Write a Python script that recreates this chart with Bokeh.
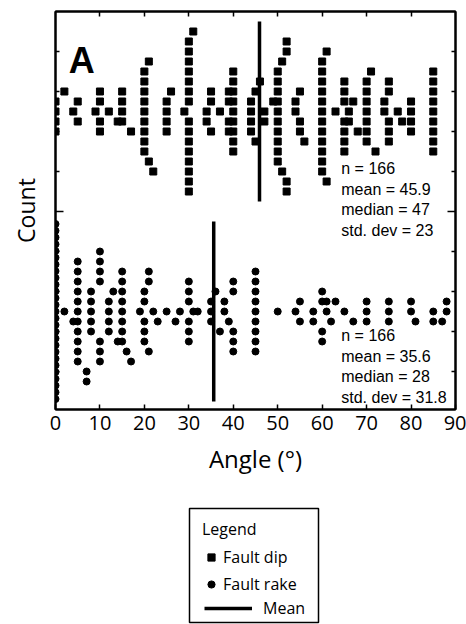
import numpy as np
from bokeh.plotting import figure
from bokeh.layouts import column
from bokeh.models import (Range1d, LinearAxis, FixedTicker, Label, Legend,
                          LegendItem, ColumnDataSource, CustomJSTickFormatter)
from bokeh.embed import file_html
from bokeh.resources import INLINE

# ---------------- data (angles in degrees, in stacking order) ----------------
DIP_ANGLES = [0, 0, 0, 0, 2,
              4, 5, 5,
              9, 10, 10, 10, 10,
              12, 14,
              15, 15, 15, 17, 15,
              20, 20, 20, 20, 20, 20, 20, 20, 20, 21, 21, 22,
              25, 25, 25, 25, 26,
              29, 30, 30, 30, 30, 30, 30, 30, 30, 30, 30, 30, 30, 30, 30, 30, 31,
              34, 34, 35, 35, 35,
              37, 39, 39, 39, 39,
              40, 40, 40, 40, 40, 40, 40, 40, 40,
              44, 44, 44, 44, 45, 45, 46,
              47, 47, 49,
              50, 50, 50, 50, 50, 50, 50, 50, 50, 50, 51, 51, 52, 52, 52, 52,
              54, 55, 54, 55, 55, 56,
              60, 60, 60, 60, 60, 60, 60, 60, 60, 60, 60, 60, 61, 61,
              63, 65, 65, 65, 65, 65, 65, 65,
              66, 66, 67, 68,
              70, 70, 70, 70, 70, 70, 70, 72, 71,
              74, 75, 74, 75, 75, 75, 75,
              77, 78,
              80, 80, 80, 80,
              85, 85, 85, 85, 85, 85, 85, 85, 85]

RAKE_ANGLES = [0, 0, 0, 0, 0, 0, 0, 0, 0, 0, 0, 0, 0, 0, 0, 0, 0, 0, 0, 0,
               0, 0, 0, 0, 0, 0, 0,
               2, 4,
               5, 5, 5, 5, 5, 5, 5, 5, 5, 5, 5,
               8, 8, 8, 8, 8, 10, 10, 10, 10, 10, 10, 7, 10, 7,
               12, 12, 12, 12, 13, 14,
               15, 15, 15, 15, 15, 15, 15, 16, 15, 17,
               19, 20, 20, 20, 20, 20, 21, 21, 21,
               22, 23,
               25,
               28, 27,
               31, 30, 30, 30, 30, 30, 30,
               32,
               35, 35, 35, 37, 36,
               38, 39, 38, 40, 40, 40, 40, 40,
               45, 45, 45, 45, 45, 45, 45, 45, 45,
               50,
               54, 55, 55,
               58, 58, 60, 60, 60, 60,
               61, 62, 61,
               65, 67, 63,
               70, 70, 70,
               75, 75, 75,
               80, 81, 80,
               85, 85,
               88, 87, 88]

DIP_BIN_EDGES = [0, 3, 8, 11, 14.5, 19, 24, 28, 33, 36.5, 39.5, 43, 46.5, 49.5,
                 53, 58, 62, 65.5, 69, 73, 76, 79, 82]
RAKE_BIN_EDGES = [0, 1.5, 4.5, 6.5, 11.5, 14.5, 18.5, 21.5, 24.5, 26.5, 29.5,
                  31.5, 34.5, 37.5, 44.5, 49.5, 53.5, 57.5, 60.5, 62.5, 69.5,
                  74.5, 79.5, 84.5, 86.5]

MEANS = [45.9, 35.6]
DIP_STATS = ["n = 166", "mean = 45.9", "median = 47", "std. dev = 23"]
RAKE_STATS = ["n = 166", "mean = 35.6", "median = 28", "std. dev = 31.8"]
X_TICKS = [0, 10, 20, 30, 40, 50, 60, 70, 80, 90]
COUNT_MINOR = [4, 8, 12, 16, 24, 28, 32, 36]
SERIES = ["Fault dip", "Fault rake", "Mean"]

# ---------------- layout constants ----------------
DIP_BASE = 10.0      # stack centre of the dip panel (count units)
RAKE_BASE = 30.0     # stack centre of the rake panel
MAX_HALF = 8.75      # max half extent of a stack before it is compressed
MEAN_HALF = 9.0
FONT = "Open Sans"
STAT_FONT = "Liberation Sans"


def stack(values, edges, base):
    """Centre-out dot stacking within bins (0, +1, -1, +2, -2 ...)."""
    edges = np.asarray(edges, dtype=float)
    groups = {}
    for v in values:
        b = int(np.searchsorted(edges, v, side="right") - 1)
        groups.setdefault(b, []).append(v)
    xs, ys = [], []
    for b in sorted(groups):
        vals = groups[b]
        slots = []
        for i in range(len(vals)):
            k = (i + 1) // 2
            slots.append(k if i % 2 == 1 else -k)
        m = max(abs(s) for s in slots)
        f = min(1.0, MAX_HALF / m) if m else 1.0
        for v, s in zip(vals, slots):
            xs.append(v)
            ys.append(base + s * f)
    return xs, ys


dx, dy = stack(DIP_ANGLES, DIP_BIN_EDGES, DIP_BASE)
rx, ry = stack(RAKE_ANGLES, RAKE_BIN_EDGES, RAKE_BASE)
dip_src = ColumnDataSource(dict(x=dx, y=dy))
rake_src = ColumnDataSource(dict(x=rx, y=ry))
mean_src = ColumnDataSource(dict(x=MEANS,
                                 y0=[DIP_BASE - MEAN_HALF, RAKE_BASE - MEAN_HALF],
                                 y1=[DIP_BASE + MEAN_HALF, RAKE_BASE + MEAN_HALF]))

p = figure(width=466, height=490, x_range=Range1d(0, 90),
           y_range=Range1d(39.8, 0), output_backend="svg",
           toolbar_location=None, min_border_left=55, min_border_right=11,
           min_border_top=11, min_border_bottom=81)
p.background_fill_color = "white"
p.border_fill_color = "white"
p.outline_line_color = "black"
p.outline_line_width = 2
p.xgrid.visible = False
p.ygrid.visible = False

blank = CustomJSTickFormatter(code="return ''")

# bottom axis
xa = p.xaxis[0]
xa.ticker = FixedTicker(ticks=X_TICKS)
xa.major_tick_in = 5
xa.major_tick_out = 0
xa.minor_tick_in = 0
xa.minor_tick_out = 0
xa.axis_line_width = 2
xa.major_tick_line_width = 1.5
xa.major_label_text_font = FONT
xa.major_label_text_font_size = "20px"
xa.major_label_text_color = "black"
xa.major_label_standoff = 6
xa.axis_label = "Angle (°)"
xa.axis_label_text_font = FONT
xa.axis_label_text_font_size = "24px"
xa.axis_label_text_font_style = "normal"
xa.axis_label_text_color = "black"
xa.axis_label_standoff = 9

# left axis
ya = p.yaxis[0]
ya.ticker = FixedTicker(ticks=[20], minor_ticks=COUNT_MINOR)
ya.formatter = blank
ya.major_tick_in = 8
ya.major_tick_out = 0
ya.minor_tick_in = 4
ya.minor_tick_out = 0
ya.axis_line_width = 2
ya.major_tick_line_width = 1.5
ya.minor_tick_line_width = 1.5
ya.minor_tick_line_color = "black"
ya.major_label_standoff = 0
ya.axis_label = "Count"
ya.axis_label_text_font = FONT
ya.axis_label_text_font_size = "23px"
ya.axis_label_text_font_style = "normal"
ya.axis_label_text_color = "black"
ya.axis_label_standoff = 14

# right axis
ra = LinearAxis(ticker=FixedTicker(ticks=[20], minor_ticks=COUNT_MINOR),
                formatter=blank,
                major_tick_in=8, major_tick_out=0, minor_tick_in=4, minor_tick_out=0,
                axis_line_width=2, major_tick_line_width=1.5, minor_tick_line_width=1.5,
                minor_tick_line_color="black", major_label_standoff=0)
p.add_layout(ra, "right")

# top axis (ticks only)
ta = LinearAxis(ticker=FixedTicker(ticks=[], minor_ticks=X_TICKS[1:-1]),
                minor_tick_in=5, minor_tick_out=0, minor_tick_line_width=1.5,
                minor_tick_line_color="black",
                axis_line_width=2, major_label_standoff=0)
p.add_layout(ta, "above")

# data
p.scatter(x="x", y="y", source=dip_src, marker="square", size=7, color="black")
p.scatter(x="x", y="y", source=rake_src, marker="circle", size=7, color="black")
p.segment(x0="x", y0="y0", x1="x", y1="y1", source=mean_src,
          line_width=3.5, line_color="black")

# statistics text
for i, t in enumerate(DIP_STATS):
    p.add_layout(Label(x=64.3, y=15.7 + i * 2.06, text=t, text_font=STAT_FONT,
                       text_font_size="16px", text_baseline="middle",
                       text_color="black"))
for i, t in enumerate(RAKE_STATS):
    p.add_layout(Label(x=64.3, y=32.4 + i * 2.05, text=t, text_font=STAT_FONT,
                       text_font_size="16px", text_baseline="middle",
                       text_color="black"))

p.add_layout(Label(x=3.0, y=4.9, text="A", text_font=STAT_FONT,
                   text_font_size="36px", text_font_style="bold",
                   text_baseline="alphabetic", text_color="black"))

# ---------------- legend panel (its frame is the legend box) ----------------
q = figure(width=466, height=134, x_range=Range1d(0, 1), y_range=Range1d(0, 1),
           output_backend="svg", toolbar_location=None,
           x_axis_type=None, y_axis_type=None,
           min_border_left=189, min_border_right=148,
           min_border_top=18, min_border_bottom=2)
q.background_fill_color = "white"
q.border_fill_color = "white"
q.outline_line_color = "black"
q.outline_line_width = 1.5
q.grid.visible = False

# hidden renderers sharing the chart's sources, used only for legend glyphs
lg_dip = q.scatter(x="x", y="y", source=dip_src, marker="square", size=7,
                   color="black", visible=False)
lg_rake = q.scatter(x="x", y="y", source=rake_src, marker="circle", size=7,
                    color="black", visible=False)
lg_mean = q.segment(x0="x", y0="y0", x1="x", y1="y1", source=mean_src,
                    line_width=3.5, line_color="black", visible=False)

leg_a = Legend(items=[LegendItem(label=SERIES[0], renderers=[lg_dip]),
                      LegendItem(label=SERIES[1], renderers=[lg_rake])],
               location=(13, 27), title="Legend",
               title_text_font=FONT, title_text_font_size="16px",
               title_text_font_style="normal", title_text_color="black",
               title_standoff=6,
               label_text_font=FONT, label_text_font_size="16px",
               label_text_color="black",
               glyph_width=18, glyph_height=20, label_standoff=3,
               padding=4, spacing=5, margin=0,
               inactive_fill_alpha=0,
               border_line_color=None, background_fill_alpha=0)
leg_b = Legend(items=[LegendItem(label=SERIES[2], renderers=[lg_mean])],
               location=(15, 3),
               label_text_font=FONT, label_text_font_size="16px",
               label_text_color="black",
               glyph_width=48, glyph_height=20, label_standoff=11,
               padding=0, spacing=0, margin=0,
               inactive_fill_alpha=0,
               border_line_color=None, background_fill_alpha=0)
q.add_layout(leg_a)
q.add_layout(leg_b)

for fig in (p, q):
    try:
        fig.frame_align = False
    except Exception:
        pass

layout = column(p, q, spacing=0)
open("out.html", "w").write(file_html(layout, INLINE))
